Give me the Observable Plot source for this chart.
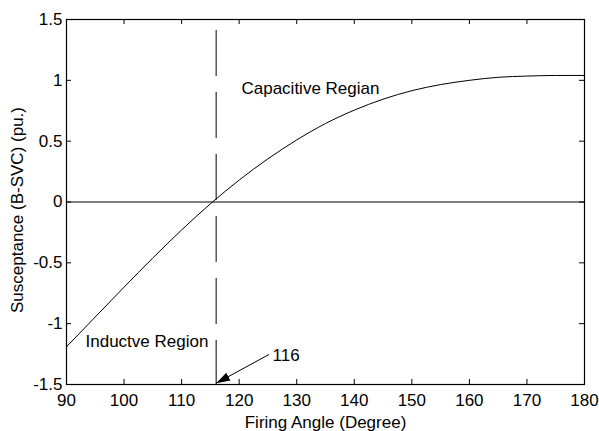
<!DOCTYPE html>
<html>
<head>
<meta charset="utf-8">
<script src="https://cdn.jsdelivr.net/npm/d3@7"></script>
<script src="https://cdn.jsdelivr.net/npm/@observablehq/plot@0.6"></script>
<style>
  html, body { margin: 0; padding: 0; background: #fff; }
</style>
</head>
<body>
<div id="chart"></div>
<script>
// ---- data ----
const angle = [90, 95, 100, 105, 110, 115, 120, 125, 130, 135, 140, 145, 150, 155, 160, 165, 170, 175, 180];
const susceptance = [-1.19, -0.945, -0.70, -0.46, -0.23, -0.015, 0.18, 0.355, 0.51, 0.645, 0.755, 0.845, 0.915, 0.965, 1.0, 1.025, 1.035, 1.04, 1.04];

const xTicks = [90, 100, 110, 120, 130, 140, 150, 160, 170, 180];
const yTicks = [-1.5, -1, -0.5, 0, 0.5, 1, 1.5];

const xLabel = "Firing Angle (Degree)";
const yLabel = "Susceptance (B-SVC) (pu.)";

const firingAngle = [116];
const firingTop = [1.41];

const regionNames = ["Capacitive Regian", "Inductve Region"];
const regionX = [120.4, 93.3];
const regionY = [0.935, -1.146];

const pointerLabel = ["116"];
const pointerLabelX = [125.8];
const pointerLabelY = [-1.259];
const pointerFromX = [125.2];
const pointerFromY = [-1.253];
const pointerToY = [-1.49];

// ---- build tables ----
const curve = angle.map((a, i) => ({a, b: susceptance[i]}));
const regions = regionNames.map((t, i) => ({t, x: regionX[i], y: regionY[i]}));
const pointer = [{x1: pointerFromX[0], y1: pointerFromY[0], x2: firingAngle[0], y2: pointerToY[0]}];
const pointerText = [{t: pointerLabel[0], x: pointerLabelX[0], y: pointerLabelY[0]}];

function solidArrow(color) {
  const ns = "http://www.w3.org/2000/svg";
  const m = document.createElementNS(ns, "marker");
  m.setAttribute("viewBox", "-14 -5 14 10");
  m.setAttribute("markerWidth", 14);
  m.setAttribute("markerHeight", 10);
  m.setAttribute("markerUnits", "userSpaceOnUse");
  m.setAttribute("orient", "auto");
  m.setAttribute("refX", 0);
  m.setAttribute("refY", 0);
  m.setAttribute("fill", color && color !== "none" ? color : "black");
  m.setAttribute("stroke", "none");
  const p = document.createElementNS(ns, "path");
  p.setAttribute("d", "M0,0L-14,-4.5L-14,4.5Z");
  m.appendChild(p);
  return m;
}

const W = 599, H = 431;
const mL = 66, mR = 15, mT = 19, mB = 47;
const innerW = W - mL - mR, innerH = H - mT - mB;
const tickLen = 5;
const font = "'Liberation Sans', Arial, Helvetica, sans-serif";

const chart = Plot.plot({
  width: W,
  height: H,
  marginLeft: mL,
  marginRight: mR,
  marginTop: mT,
  marginBottom: mB,
  style: {fontFamily: font, fontSize: "17px", background: "transparent", color: "black"},
  x: {domain: [90, 180], label: null},
  y: {domain: [-1.5, 1.5], label: null},
  marks: [
    Plot.axisX(xTicks, {tickSize: 0, tickPadding: 9, tickFormat: d => String(d), label: null, fontSize: 17}),
    Plot.axisY(yTicks, {tickSize: 0, tickPadding: 4, tickFormat: d => String(d), label: null, fontSize: 17}),
    // inward ticks on all four sides
    Plot.tickX(xTicks, {x: d => d, insetTop: innerH - tickLen, stroke: "black"}),
    Plot.tickX(xTicks, {x: d => d, insetBottom: innerH - tickLen, stroke: "black"}),
    Plot.tickY(yTicks, {y: d => d, insetRight: innerW - tickLen, stroke: "black"}),
    Plot.tickY(yTicks, {y: d => d, insetLeft: innerW - tickLen, stroke: "black"}),
    Plot.ruleY([0], {stroke: "black", strokeWidth: 1}),
    Plot.ruleX(firingAngle, {x: d => d, y1: firingTop[0], y2: -1.5, stroke: "black", strokeWidth: 1, strokeDasharray: "46,16"}),
    Plot.line(curve, {x: "a", y: "b", stroke: "black", strokeWidth: 1, curve: "monotone-x"}),
    Plot.text(regions, {x: "x", y: "y", text: "t", textAnchor: "start", lineAnchor: "middle", fontSize: 17, fill: "black"}),
    Plot.text(pointerText, {x: "x", y: "y", text: "t", textAnchor: "start", lineAnchor: "middle", fontSize: 17, fill: "black"}),
    Plot.link(pointer, {x1: "x1", y1: "y1", x2: "x2", y2: "y2", stroke: "black", strokeWidth: 1, markerEnd: solidArrow}),
    Plot.frame({stroke: "black", strokeWidth: 1.2}),
    Plot.text([xLabel], {frameAnchor: "bottom", text: d => d, dy: 38.5, textAnchor: "middle", lineAnchor: "middle", fontSize: 17, fill: "black"}),
    Plot.text([yLabel], {frameAnchor: "left", text: d => d, dx: -49, dy: 8, rotate: -90, textAnchor: "middle", lineAnchor: "middle", fontSize: 17, fill: "black"})
  ]
});

document.getElementById("chart").appendChild(chart);
</script>
</body>
</html>
